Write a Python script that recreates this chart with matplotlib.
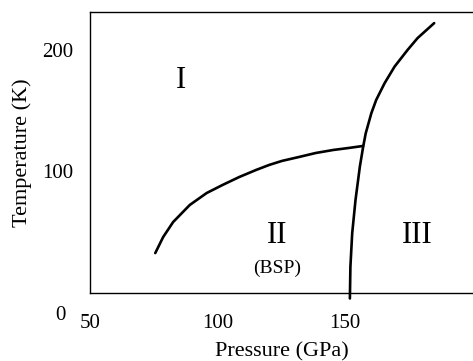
import matplotlib.pyplot as plt
from matplotlib.transforms import ScaledTranslation

# boundary between phase I and phase II (BSP)
p_12 = [75.6, 78.7, 82.6, 89.1, 95.7, 101.9, 108.5, 115.1, 120.2, 125.2, 131.8, 138.4, 145.3, 151.2, 157.0]
t_12 = [32.9, 46.1, 58.4, 72.4, 82.2, 88.8, 95.4, 101.2, 105.3, 108.6, 111.8, 115.1, 117.6, 119.2, 120.9]

# boundary to phase III
p_3 = [151.8, 152.0, 152.7, 154.0, 155.7, 157.0, 158.0, 160.2, 162.1, 165.4, 169.3, 174.4, 178.3, 184.8]
t_3 = [-4.4, 21.6, 49.1, 76.5, 103.9, 120.3, 131.3, 147.8, 158.7, 172.5, 186.1, 199.8, 209.5, 221.8]

phase_names = ['I', 'II', 'III']
phase_p = [85.7, 123.3, 178.3]
phase_t = [175, 47.7, 47.7]

plt.rcParams['font.family'] = 'Liberation Serif'

fig = plt.figure(figsize=(4.73, 3.61), dpi=100)
ax = fig.add_axes([0.19, 0.188, 0.81, 0.779])

ax.plot(p_12, t_12, color='black', lw=1.9, solid_capstyle='round', solid_joinstyle='round')
ax.plot(p_3, t_3, color='black', lw=1.9, solid_capstyle='round', solid_joinstyle='round', clip_on=False)

for name, p, t in zip(phase_names, phase_p, phase_t):
    ax.text(p, t, name, fontsize=22, ha='center', va='center')
ax.text(123.3, 20.6, '(BSP)', fontsize=14, ha='center', va='center')

ax.set_xlim(50, 200)
ax.set_ylim(0, 231)
ax.set_xticks([50, 100, 150])
ax.set_yticks([0, 100, 200])
ax.tick_params(length=0, labelsize=15)
ax.tick_params(axis='x', pad=15)
ax.tick_params(axis='y', pad=12)

# the origin label sits down in the corner
zero = ax.yaxis.get_major_ticks()[0].label1
zero.set_transform(zero.get_transform() + ScaledTranslation(-8 / 100, -20 / 100, fig.dpi_scale_trans))

ax.spines['right'].set_visible(False)
for s in ['left', 'top', 'bottom']:
    ax.spines[s].set_linewidth(1.0)

ax.set_xlabel('Pressure (GPa)', fontsize=16, labelpad=7)
ax.set_ylabel('Temperature (K)', fontsize=16, labelpad=7)

fig.savefig('out.png', dpi=100)
